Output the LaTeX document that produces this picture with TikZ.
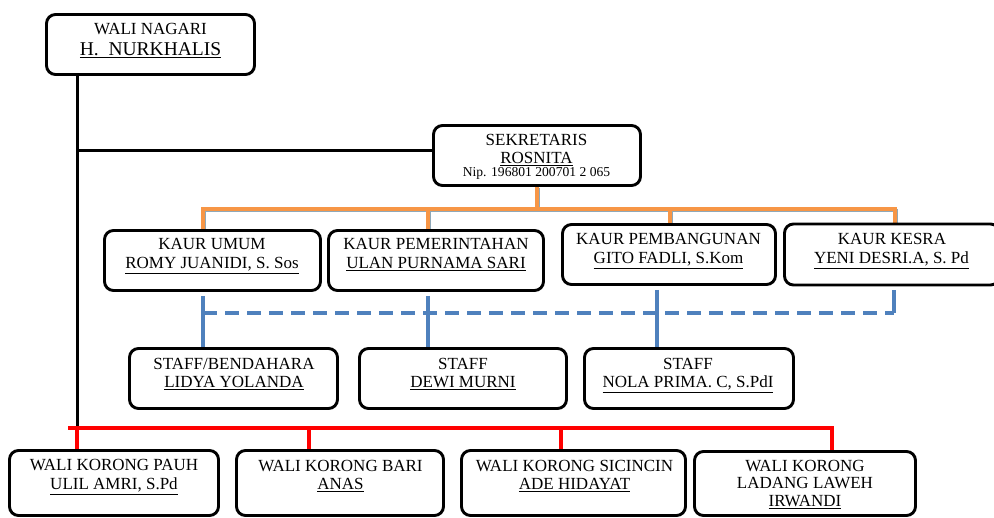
\documentclass[tikz,border=0pt]{standalone}
\usepackage{fontspec}
\setmainfont{Liberation Serif}
\definecolor{orgorange}{HTML}{F79646}
\definecolor{orgblue}{HTML}{4F81BD}
\definecolor{orgshadow}{HTML}{8FA8B8}
\pgfdeclarelayer{bg}
\pgfsetlayers{bg,main}
\tikzset{
  box/.style={draw=black, line width=2.9pt, rounded corners=9pt, fill=white, inner sep=0pt},
  txt/.style={anchor=base, inner sep=0pt, font=\fontsize{17}{20}\selectfont},
  bigtxt/.style={txt, font=\fontsize{19.5}{22}\selectfont},
  smalltxt/.style={txt, font=\fontsize{13.6}{15}\selectfont},
  conblack/.style={draw=black, line width=3pt},
  conorange/.style={draw=orgorange, line width=3.8pt},
  conshadow/.style={draw=orgshadow, line width=3.8pt},
  conblue/.style={draw=orgblue, line width=4.2pt},
  conred/.style={draw=red, line width=4.3pt},
}
\begin{document}
\begin{tikzpicture}[x=1pt,y=-1pt]
\useasboundingbox (0,0) rectangle (994,518);
\clip (0,0) rectangle (994,518);

% boxes
\node[box, minimum width=208pt, minimum height=60pt] (wn) at (150.5,44.5) {};
\node[box, minimum width=207pt, minimum height=60pt] (sek) at (537,155.5) {};
\node[box, minimum width=216pt, minimum height=60pt] (k1) at (212.5,260.5) {};
\node[box, minimum width=215pt, minimum height=60pt] (k2) at (436,260.5) {};
\node[box, minimum width=213pt, minimum height=60pt] (k3) at (669,254.5) {};
\node[box, minimum width=215pt, minimum height=61pt] (k4) at (892,254.5) {};
\node[box, minimum width=208pt, minimum height=60pt] (s1) at (233.5,378.5) {};
\node[box, minimum width=207pt, minimum height=60pt] (s2) at (463,378.5) {};
\node[box, minimum width=209pt, minimum height=60pt] (s3) at (689,378.5) {};
\node[box, minimum width=209pt, minimum height=65pt] (b1) at (114,483) {};
\node[box, minimum width=207pt, minimum height=65pt] (b2) at (340,483) {};
\node[box, minimum width=224pt, minimum height=65pt] (b3) at (573.5,483) {};
\node[box, minimum width=221pt, minimum height=64pt] (b4) at (805,483.5) {};

% texts
\node[txt] (wn1) at (150.5,35) {WALI NAGARI};
\node[bigtxt] (wn2) at (150.5,56) {\underline{H.\ \ NURKHALIS}};

\node[txt] (sek1) at (536.5,146) {SEKRETARIS};
\node[txt] (sek2) at (536.5,164) {\underline{ROSNITA}};
\node[smalltxt] (sek3) at (536.5,177) {Nip. 196801 200701 2 065};

\node[txt] (k1a) at (212,250) {KAUR UMUM};
\node[txt] (k1b) at (212,269) {\underline{ROMY JUANIDI, S. Sos}};
\node[txt] (k2a) at (436,250) {KAUR PEMERINTAHAN};
\node[txt] (k2b) at (436,269) {\underline{ULAN PURNAMA SARI}};
\node[txt] (k3a) at (668.5,245) {KAUR PEMBANGUNAN};
\node[txt] (k3b) at (668.5,264) {\underline{GITO FADLI, S.Kom}};
\node[txt] (k4a) at (892,245) {KAUR KESRA};
\node[txt] (k4b) at (891.5,264) {\underline{YENI DESRI.A, S. Pd}};

\node[txt] (s1a) at (234,370) {STAFF/BENDAHARA};
\node[txt] (s1b) at (234,388) {\underline{LIDYA YOLANDA}};
\node[txt] (s2a) at (463,370) {STAFF};
\node[txt] (s2b) at (463,388) {\underline{DEWI MURNI}};
\node[txt] (s3a) at (688,370) {STAFF};
\node[txt] (s3b) at (688,388) {\underline{NOLA PRIMA. C, S.PdI}};

\node[txt] (b1a) at (114,470.5) {WALI KORONG PAUH};
\node[txt] (b1b) at (114,490) {\underline{ULIL AMRI, S.Pd}};
\node[txt] (b2a) at (340.5,471.5) {WALI KORONG BARI};
\node[txt] (b2b) at (340.5,490) {\underline{ANAS}};
\node[txt] (b3a) at (574.5,471.5) {WALI KORONG SICINCIN};
\node[txt] (b3b) at (574.5,490) {\underline{ADE HIDAYAT}};
\node[txt] (b4a) at (805,471.5) {WALI KORONG};
\node[txt] (b4b) at (805,488.5) {LADANG LAWEH};
\node[txt] (b4c) at (805,506.5) {\underline{IRWANDI}};

% junction coordinates
\coordinate (vj) at (77,428);
\coordinate (sekj) at ([yshift=4.5pt]sek.west);
\coordinate (oj) at (537,209);
\coordinate (o1) at (203,209);
\coordinate (o2) at (428,209);
\coordinate (o3) at (670,209);
\coordinate (o4) at (895,209);
\coordinate (bl1) at (203,313);
\coordinate (bl2) at (428,313);
\coordinate (bl3) at (657,313);
\coordinate (bl4) at (894,313);
\coordinate (r0) at (68,428);
\coordinate (r2) at (309,428);
\coordinate (r3) at (561,428);
\coordinate (r4) at (832,428);

\begin{pgfonlayer}{bg}
  % black
  \draw[conblack] (wn.south -| vj) -- (vj);
  \draw[conblack] (vj |- sekj) -- (sekj);
  % orange with shadow
  \begin{scope}[transform canvas={shift={(1.5pt,-1.5pt)}}]
    \draw[conshadow] (o1 |- k1.north) -- (o1) -- (o4) -- (o4 |- k4.north);
    \draw[conshadow] (sek.south) -- (oj);
    \draw[conshadow] (o2) -- (o2 |- k2.north);
    \draw[conshadow] (o3) -- (o3 |- k3.north);
  \end{scope}
  \draw[conorange] (o1 |- k1.north) -- (o1) -- (o4) -- (o4 |- k4.north);
  \draw[conorange] (sek.south) -- (oj);
  \draw[conorange] (o2) -- (o2 |- k2.north);
  \draw[conorange] (o3) -- (o3 |- k3.north);
  % blue
  \draw[conblue] ([yshift=-4pt]k1.south -| bl1) -- (bl1 |- s1.north);
  \draw[conblue] ([yshift=-4pt]k2.south -| bl2) -- (bl2 |- s2.north);
  \draw[conblue] ([yshift=-4pt]k3.south -| bl3) -- (bl3 |- s3.north);
  \draw[conblue] ([yshift=-4pt]k4.south -| bl4) -- (bl4);
  \draw[conblue, dash pattern=on 14pt off 8pt] (bl1) -- (bl4);
  % red
  \draw[conred] (r0) -- (r4) -- (r4 |- b4.north);
  \draw[conred] (vj) -- (vj |- b1.north);
  \draw[conred] (r2) -- (r2 |- b2.north);
  \draw[conred] (r3) -- (r3 |- b3.north);
\end{pgfonlayer}
\end{tikzpicture}
\end{document}
